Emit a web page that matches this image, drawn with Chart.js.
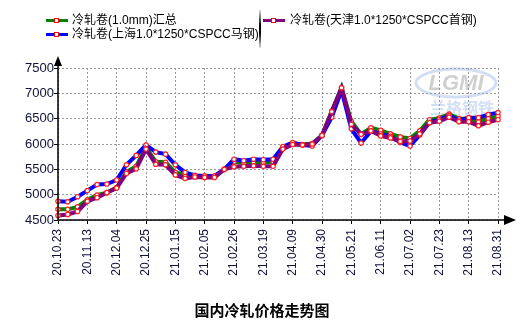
<!DOCTYPE html>
<html>
<head>
<meta charset="utf-8">
<script src="https://cdn.jsdelivr.net/npm/chart.js@4/dist/chart.umd.min.js"></script>
<style>
    body { margin: 0; background: #fff; }
    #wrap { position: relative; width: 524px; height: 328px; background: #fff; font-family: "Liberation Sans", "Noto Sans CJK SC", sans-serif; }
    #chart { position: absolute; left: 0; top: 0; }
    .item { position: absolute; height: 16px; line-height: 16px; font-size: 12px; color: #000; white-space: nowrap; }
    .swatch { position: absolute; width: 22px; height: 3px; }
    .dot { position: absolute; left: 8px; top: -1px; width: 3px; height: 3px; border: 1px solid #f00; background: #fff; }
    .divider { position: absolute; left: 259px; top: 10px; width: 2px; height: 38px; background: linear-gradient(#ddd, #000 40%, #000 60%, #ddd); }
    #title { position: absolute; left: 0; width: 524px; top: 299px; text-align: center; font: bold 15px "Noto Sans CJK SC", sans-serif; color: #000; }
</style>
</head>
<body>
<div id="wrap">
    <canvas id="chart" width="524" height="328"></canvas>
    <div id="legend"></div>
    <div class="divider"></div>
    <div id="title">国内冷轧价格走势图</div>
</div>
<script>
// Dates (weekly), every third one is shown on the axis
const dates = [
    "20.10.23", "20.10.30", "20.11.06", "20.11.13", "20.11.20", "20.11.27",
    "20.12.04", "20.12.11", "20.12.18", "20.12.25", "21.01.01", "21.01.08",
    "21.01.15", "21.01.22", "21.01.29", "21.02.05", "21.02.12", "21.02.19",
    "21.02.26", "21.03.05", "21.03.12", "21.03.19", "21.03.26", "21.04.02",
    "21.04.09", "21.04.16", "21.04.23", "21.04.30", "21.05.07", "21.05.14",
    "21.05.21", "21.05.28", "21.06.04", "21.06.11", "21.06.18", "21.06.25",
    "21.07.02", "21.07.09", "21.07.16", "21.07.23", "21.07.30", "21.08.06",
    "21.08.13", "21.08.20", "21.08.27", "21.08.31"
];

const seriesNames = [
    "冷轧卷(1.0mm)汇总",
    "冷轧卷(上海1.0*1250*CSPCC马钢)",
    "冷轧卷(天津1.0*1250*CSPCC首钢)"
];

const totalPrices = [
    4710, 4710, 4760, 4900, 4990, 5040, 5140, 5450, 5560, 5930, 5650, 5640,
    5440, 5400, 5370, 5350, 5350, 5500, 5650, 5620, 5650, 5640, 5650, 5920,
    6010, 5990, 6010, 6170, 6650, 7110, 6450, 6190, 6320, 6270, 6200, 6140,
    6110, 6260, 6480, 6510, 6590, 6500, 6500, 6440, 6500, 6550
];

const shanghaiPrices = [
    4870, 4860, 4960, 5080, 5200, 5210, 5290, 5590, 5775, 5980, 5840, 5800,
    5590, 5440, 5380, 5370, 5370, 5500, 5700, 5670, 5700, 5690, 5700, 5950,
    6030, 5980, 5960, 6170, 6530, 7060, 6300, 6020, 6250, 6200, 6150, 6030,
    5960, 6180, 6430, 6480, 6560, 6470, 6520, 6520, 6580, 6620
];

const tianjinPrices = [
    4590, 4610, 4670, 4870, 4940, 5040, 5130, 5420, 5510, 5900, 5600, 5590,
    5390, 5320, 5350, 5340, 5340, 5500, 5550, 5560, 5570, 5560, 5560, 5900,
    5990, 5980, 6000, 6170, 6640, 7110, 6390, 6190, 6260, 6160, 6120, 6050,
    6060, 6200, 6420, 6450, 6530, 6440, 6440, 6360, 6430, 6480
];

const seriesColors = ["#008000", "#0000ff", "#800080"];

const yMin = 4500;
const yMax = 7500;
const yStep = 500;

// Function to tell if a date index gets a label
function isLabelled(i) {
    return i % 3 === 0 || i === dates.length - 1;
}

// Function to build the html legend
function buildLegend() {
    const legend = document.getElementById("legend");
    const spots = [
        { x: 46, y: 19, tx: 72 },
        { x: 46, y: 33, tx: 72 },
        { x: 263, y: 19, tx: 290 }
    ];
    seriesNames.forEach((name, i) => {
        const s = spots[i];
        const sw = document.createElement("div");
        sw.className = "swatch";
        sw.style.left = s.x + "px";
        sw.style.top = s.y + "px";
        sw.style.background = seriesColors[i];
        sw.innerHTML = '<div class="dot"></div>';
        legend.appendChild(sw);

        const txt = document.createElement("div");
        txt.className = "item";
        txt.style.left = s.tx + "px";
        txt.style.top = (s.y - 7) + "px";
        txt.textContent = name;
        legend.appendChild(txt);
    });
}

// Plugin for the axis lines with arrow heads and the faint watermark
const axesPlugin = {
    id: "axes",
    beforeDatasetsDraw(chart) {
        const ctx = chart.ctx;
        ctx.save();
        ctx.globalAlpha = 0.4;
        ctx.strokeStyle = "#8fb0e0";
        ctx.lineWidth = 3;
        ctx.beginPath();
        ctx.ellipse(456, 83, 40, 14, 0, 0, Math.PI * 2);
        ctx.stroke();
        ctx.fillStyle = "#888";
        ctx.font = "italic bold 22px 'Liberation Sans'";
        ctx.textAlign = "center";
        ctx.textBaseline = "middle";
        ctx.fillText("LGMI", 456, 84);
        ctx.fillStyle = "#8fb0e0";
        ctx.font = "bold 16px 'Noto Sans CJK SC'";
        ctx.fillText("兰格钢铁", 462, 108);
        ctx.restore();
    },
    afterDraw(chart) {
        const ctx = chart.ctx;
        const a = chart.chartArea;
        ctx.save();
        ctx.strokeStyle = "#000";
        ctx.fillStyle = "#000";
        ctx.lineWidth = 1.5;
        ctx.beginPath();
        ctx.moveTo(a.left, a.bottom);
        ctx.lineTo(a.right + 8, a.bottom);
        ctx.moveTo(a.left, a.bottom);
        ctx.lineTo(a.left, a.top - 2);
        ctx.stroke();
        // x arrow
        ctx.beginPath();
        ctx.moveTo(a.right + 18, a.bottom);
        ctx.lineTo(a.right + 6, a.bottom - 5);
        ctx.lineTo(a.right + 6, a.bottom + 5);
        ctx.closePath();
        ctx.fill();
        // y arrow
        ctx.beginPath();
        ctx.moveTo(a.left, a.top - 12);
        ctx.lineTo(a.left - 4, a.top - 2);
        ctx.lineTo(a.left + 4, a.top - 2);
        ctx.closePath();
        ctx.fill();
        ctx.restore();
    }
};

// Function to make one line dataset
function makeDataset(label, data, color, order) {
    return {
        label: label,
        data: data,
        borderColor: color,
        backgroundColor: color,
        borderWidth: 4,
        tension: 0,
        pointRadius: 2.2,
        pointBorderWidth: 1.2,
        pointBorderColor: "#ff2020",
        pointBackgroundColor: "#ffffff",
        order: order
    };
}

// Function to create the line chart
function createLineChart() {
    const ctx = document.getElementById("chart").getContext("2d");

    new Chart(ctx, {
        type: "line",
        data: {
            labels: dates,
            datasets: [
                makeDataset(seriesNames[0], totalPrices, seriesColors[0], 3),
                makeDataset(seriesNames[1], shanghaiPrices, seriesColors[1], 2),
                makeDataset(seriesNames[2], tianjinPrices, seriesColors[2], 1)
            ]
        },
        options: {
            responsive: false,
            animation: false,
            layout: {
                padding: { left: 0, top: 68, right: 26, bottom: 38 }
            },
            plugins: {
                legend: { display: false },
                title: { display: false },
                tooltip: { enabled: false }
            },
            scales: {
                x: {
                    type: "category",
                    offset: false,
                    afterFit: (scale) => { scale.height = 70; },
                    border: { display: false, dash: [2, 2] },
                    grid: {
                        color: (c) => isLabelled(c.index) ? "#9a9a9a" : "rgba(0,0,0,0)",
                        tickColor: (c) => isLabelled(c.index) ? "#000" : "rgba(0,0,0,0)",
                        tickBorderDash: [],
                        tickLength: 4,
                        lineWidth: 1
                    },
                    ticks: {
                        autoSkip: false,
                        minRotation: 90,
                        maxRotation: 90,
                        padding: 5,
                        color: "#10103a",
                        font: { family: "Liberation Sans", size: 12 },
                        callback: function (value, index) {
                            return isLabelled(index) ? dates[index] : "";
                        }
                    }
                },
                y: {
                    min: yMin,
                    max: yMax,
                    afterFit: (scale) => { scale.width = 58; },
                    border: { display: false, dash: [2, 2] },
                    grid: {
                        color: "#9a9a9a",
                        tickColor: "#000",
                        tickBorderDash: [],
                        tickLength: 4,
                        lineWidth: 1
                    },
                    ticks: {
                        stepSize: yStep,
                        padding: 0,
                        color: "#10103a",
                        font: { family: "Liberation Sans", size: 13 },
                        callback: (value) => String(value)
                    }
                }
            }
        },
        plugins: [axesPlugin]
    });
}

buildLegend();
createLineChart();
</script>
</body>
</html>
